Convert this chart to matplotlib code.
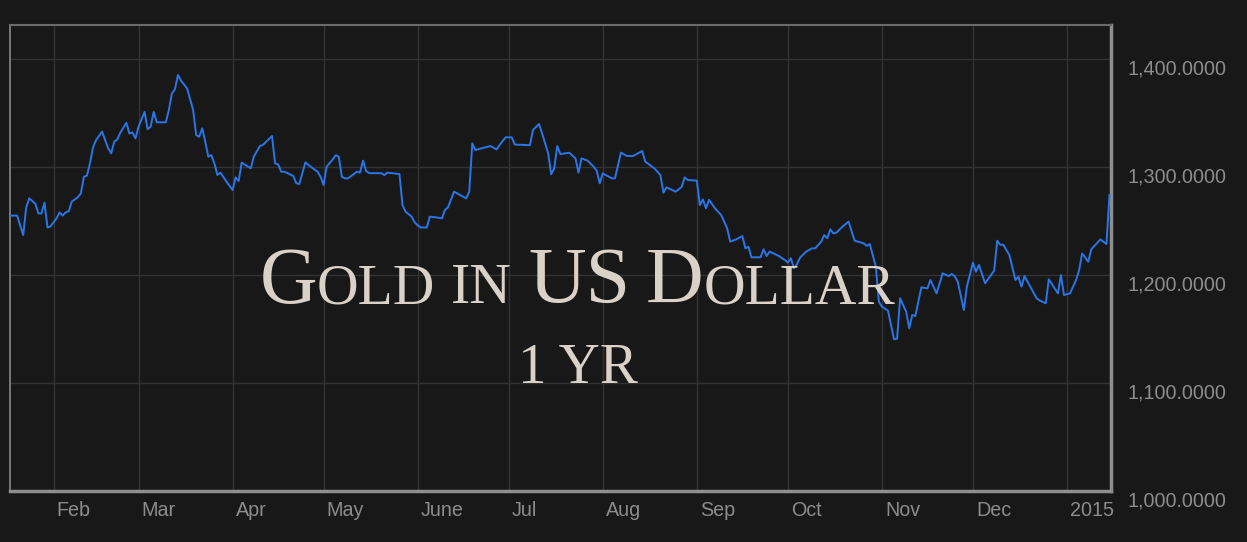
import matplotlib
matplotlib.use("Agg")
import matplotlib.pyplot as plt
from matplotlib.transforms import ScaledTranslation, IdentityTransform
import numpy as np

dates = [
    "2014-01-17", "2014-01-20", "2014-01-22", "2014-01-23", "2014-01-24", "2014-01-26", "2014-01-27",
    "2014-01-28", "2014-01-29", "2014-01-30", "2014-01-31", "2014-02-02", "2014-02-03", "2014-02-04",
    "2014-02-05", "2014-02-06", "2014-02-07", "2014-02-09", "2014-02-10", "2014-02-11", "2014-02-12",
    "2014-02-13", "2014-02-14", "2014-02-15", "2014-02-17", "2014-02-19", "2014-02-20", "2014-02-21",
    "2014-02-22", "2014-02-23", "2014-02-25", "2014-02-26", "2014-02-27", "2014-02-28", "2014-03-01",
    "2014-03-03", "2014-03-04", "2014-03-05", "2014-03-06", "2014-03-07", "2014-03-10", "2014-03-11",
    "2014-03-12", "2014-03-13", "2014-03-14", "2014-03-15", "2014-03-17", "2014-03-18", "2014-03-19",
    "2014-03-20", "2014-03-21", "2014-03-22", "2014-03-23", "2014-03-24", "2014-03-25", "2014-03-26",
    "2014-03-27", "2014-03-28", "2014-03-30", "2014-04-01", "2014-04-02", "2014-04-03", "2014-04-04",
    "2014-04-07", "2014-04-08", "2014-04-10", "2014-04-11", "2014-04-14", "2014-04-15", "2014-04-16",
    "2014-04-17", "2014-04-18", "2014-04-21", "2014-04-22", "2014-04-23", "2014-04-25", "2014-04-27",
    "2014-04-29", "2014-04-30", "2014-05-01", "2014-05-02", "2014-05-04", "2014-05-05", "2014-05-06",
    "2014-05-07", "2014-05-08", "2014-05-09", "2014-05-11", "2014-05-12", "2014-05-13", "2014-05-14",
    "2014-05-15", "2014-05-16", "2014-05-20", "2014-05-21", "2014-05-22", "2014-05-26", "2014-05-27",
    "2014-05-28", "2014-05-30", "2014-05-31", "2014-06-01", "2014-06-02", "2014-06-04", "2014-06-05",
    "2014-06-07", "2014-06-09", "2014-06-10", "2014-06-11", "2014-06-13", "2014-06-15", "2014-06-17",
    "2014-06-18", "2014-06-19", "2014-06-20", "2014-06-22", "2014-06-25", "2014-06-27", "2014-06-28",
    "2014-06-30", "2014-07-02", "2014-07-03", "2014-07-08", "2014-07-09", "2014-07-11", "2014-07-12",
    "2014-07-14", "2014-07-15", "2014-07-16", "2014-07-17", "2014-07-18", "2014-07-21", "2014-07-23",
    "2014-07-24", "2014-07-25", "2014-07-27", "2014-07-29", "2014-07-30", "2014-07-31", "2014-08-01",
    "2014-08-04", "2014-08-05", "2014-08-07", "2014-08-09", "2014-08-11", "2014-08-14", "2014-08-15",
    "2014-08-18", "2014-08-20", "2014-08-21", "2014-08-22", "2014-08-25", "2014-08-27", "2014-08-28",
    "2014-08-29", "2014-09-01", "2014-09-02", "2014-09-03", "2014-09-04", "2014-09-05", "2014-09-07",
    "2014-09-09", "2014-09-11", "2014-09-12", "2014-09-14", "2014-09-16", "2014-09-17", "2014-09-18",
    "2014-09-19", "2014-09-22", "2014-09-23", "2014-09-24", "2014-09-25", "2014-09-28", "2014-09-30",
    "2014-10-01", "2014-10-02", "2014-10-03", "2014-10-04", "2014-10-05", "2014-10-07", "2014-10-09",
    "2014-10-10", "2014-10-12", "2014-10-13", "2014-10-14", "2014-10-15", "2014-10-16", "2014-10-17",
    "2014-10-19", "2014-10-21", "2014-10-23", "2014-10-26", "2014-10-27", "2014-10-28", "2014-10-30",
    "2014-10-31", "2014-11-01", "2014-11-03", "2014-11-05", "2014-11-06", "2014-11-07", "2014-11-09",
    "2014-11-10", "2014-11-11", "2014-11-12", "2014-11-14", "2014-11-16", "2014-11-17", "2014-11-19",
    "2014-11-20", "2014-11-21", "2014-11-23", "2014-11-24", "2014-11-25", "2014-11-26", "2014-11-28",
    "2014-11-29", "2014-12-01", "2014-12-02", "2014-12-03", "2014-12-05", "2014-12-08", "2014-12-09",
    "2014-12-10", "2014-12-11", "2014-12-13", "2014-12-15", "2014-12-16", "2014-12-17", "2014-12-18",
    "2014-12-22", "2014-12-23", "2014-12-25", "2014-12-26", "2014-12-29", "2014-12-30", "2014-12-31",
    "2015-01-02", "2015-01-04", "2015-01-05", "2015-01-06", "2015-01-08", "2015-01-09", "2015-01-12",
    "2015-01-14", "2015-01-15",
]

prices = [
    1255, 1255, 1237, 1263, 1271, 1266, 1257,
    1257, 1267, 1244, 1245, 1252.5, 1258, 1255,
    1258, 1259, 1268, 1272, 1275.6, 1291, 1292,
    1303.4, 1318, 1325, 1332.7, 1317.3, 1312.7, 1323.5,
    1325.6, 1331.8, 1341, 1331, 1332, 1326.5, 1337.4,
    1351, 1335, 1337.4, 1351, 1341.4, 1341.4, 1352.8,
    1368, 1372, 1385.2, 1380, 1372.8, 1362.7, 1352.8,
    1329.6, 1328, 1335.8, 1323.5, 1309.6, 1311, 1303.4,
    1292.6, 1294.8, 1286.4, 1278.7, 1290.4, 1287, 1304,
    1298.8, 1309.6, 1319.4, 1320.5, 1328.7, 1303.4, 1302.5,
    1295.7, 1295.7, 1291.7, 1285, 1284.3, 1304.3, 1299.7,
    1295.7, 1291, 1283.3, 1300.3, 1307, 1311, 1309.6,
    1291, 1289.5, 1289.5, 1293.5, 1295.7, 1294.8, 1305.9,
    1296.3, 1294.3, 1294.3, 1292.5, 1294.8, 1293.5, 1264.8,
    1258.6, 1254, 1248.8, 1246, 1244, 1244, 1254,
    1253.4, 1252.5, 1260.2, 1262.7, 1277.2, 1274, 1271,
    1277.2, 1321.9, 1315.7, 1317.3, 1319.4, 1316.3, 1320.4,
    1327.5, 1327.5, 1320.8, 1320.2, 1334.3, 1339.8, 1331.2,
    1312.7, 1293.2, 1298.8, 1319.4, 1312, 1313.2, 1308,
    1294.8, 1308, 1305.9, 1300.3, 1296.6, 1284.9, 1294.1,
    1289.5, 1289.5, 1313.3, 1310.2, 1310.2, 1314.8, 1305,
    1298.8, 1292.6, 1276.2, 1281.2, 1277.2, 1281.5, 1290.4,
    1288, 1287.4, 1264.8, 1270, 1261.7, 1269.7, 1261.7,
    1255.6, 1243.2, 1230.9, 1233, 1236.1, 1224.7, 1226.2,
    1216.4, 1216.4, 1223.8, 1217.6, 1221.7, 1217.6, 1213.9,
    1211.5, 1215.5, 1206.2, 1210, 1216, 1221.6, 1224.7,
    1224.7, 1230.9, 1237, 1234, 1242.3, 1238.6, 1239.2,
    1244.8, 1249.4, 1231.8, 1229.3, 1226.9, 1228.7, 1207.7,
    1175.3, 1170.7, 1167, 1140.4, 1141, 1178.4, 1166,
    1150.6, 1163, 1162, 1188.6, 1187.6, 1195.4, 1183,
    1192, 1201.6, 1199, 1201, 1198.8, 1193.8, 1167.6,
    1189.2, 1211.4, 1203, 1209.3, 1192.3, 1204, 1231.8,
    1228, 1228, 1218.5, 1195.4, 1198.5, 1189.2, 1199,
    1178.4, 1176.4, 1173.8, 1196, 1183, 1200, 1181.5,
    1183, 1195.4, 1204.6, 1220, 1212.3, 1223.8, 1233,
    1228.7, 1274,
]

month_ticks = ["2014-02-01", "2014-03-01", "2014-04-01", "2014-05-01", "2014-06-01", "2014-07-01",
               "2014-08-01", "2014-09-01", "2014-10-01", "2014-11-01", "2014-12-01", "2015-01-01"]
month_labels = ["Feb", "Mar", "Apr", "May", "June", "Jul", "Aug", "Sep", "Oct", "Nov", "Dec", "2015"]
y_ticks = [1000, 1100, 1200, 1300, 1400]
x_range = ["2014-01-17T15:30", "2015-01-15T12:00"]
y_range = [1000, 1431.5]

title_pieces = [("G", "big"), ("OLD", "small"), (" ", "space"), ("IN", "small"), (" ", "space"),
                ("US", "big"), (" ", "space"), ("D", "big"), ("OLLAR", "small")]
subtitle = "1 YR"

BG = "#181818"
W, H = 1247, 542
fig = plt.figure(figsize=(W / 100, H / 100), dpi=100, facecolor=BG)
ax = fig.add_axes([10 / W, (H - 491) / H, 1101 / W, 466 / H], facecolor=BG)

x = np.array(dates, dtype="datetime64[D]")
y = np.array(prices, dtype=float)
ax.plot(x, y, color="#2a76e8", lw=1.4, zorder=5)

ax.set_xlim(np.datetime64(x_range[0]), np.datetime64(x_range[1]))
ax.set_ylim(*y_range)

ax.set_xticks(np.array(month_ticks, dtype="datetime64[D]"))
ax.set_xticklabels(month_labels)
ax.set_yticks(y_ticks)
ax.set_yticklabels([f"{v:,.4f}" for v in y_ticks])

ax.yaxis.tick_right()
ax.tick_params(axis="both", length=0, colors="#8c8c8c", labelsize=14.2)
ax.tick_params(axis="y", pad=12)
ax.tick_params(axis="x", pad=7)
for lab in ax.get_xticklabels():
    lab.set_fontfamily("Liberation Sans")
    lab.set_ha("left")
    lab.set_transform(lab.get_transform() + ScaledTranslation(3 / 100, 0, fig.dpi_scale_trans))
for lab in ax.get_yticklabels():
    lab.set_fontfamily("Liberation Sans")
    lab.set_transform(lab.get_transform() + ScaledTranslation(0, -8 / 100, fig.dpi_scale_trans))

ax.grid(True, color="#333333", lw=1)
ax.set_axisbelow(True)

for side, c, lw in [("top", "#6a6a6a", 1.5), ("left", "#8a8a8a", 1.2),
                    ("bottom", "#8e8e8e", 2.5), ("right", "#8e8e8e", 2.5)]:
    ax.spines[side].set_color(c)
    ax.spines[side].set_linewidth(lw)

# Title in small caps
TCOL = "#dad2c8"
sizes = {"big": 57.5, "small": 41.5}
renderer = fig.canvas.get_renderer()
space_w = 16
widths = []
for s, kind in title_pieces:
    if kind == "space":
        widths.append(space_w)
        continue
    t = fig.text(0, 0, s, fontsize=sizes[kind], family="Liberation Serif", transform=IdentityTransform())
    widths.append(t.get_window_extent(renderer).width)
    t.remove()
total = sum(widths)
cx = 577.5
xpos = cx - total / 2
base_y = H - 303
for (s, kind), w in zip(title_pieces, widths):
    if kind != "space":
        fig.text(xpos, base_y, s, fontsize=sizes[kind], family="Liberation Serif", color=TCOL,
                 va="baseline", ha="left", transform=IdentityTransform(), zorder=3)
    xpos += w

fig.text(578, H - 383, subtitle, fontsize=41, family="Liberation Serif", color=TCOL,
         va="baseline", ha="center", transform=IdentityTransform(), zorder=3)

fig.savefig("out.png", dpi=100, facecolor=BG)
